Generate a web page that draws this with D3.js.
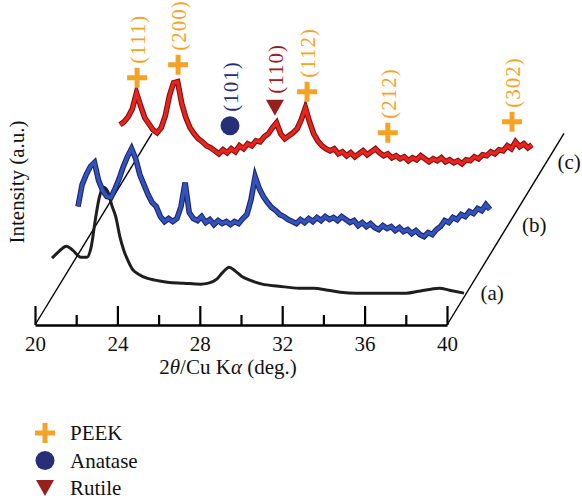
<!DOCTYPE html>
<html>
<head>
<meta charset="utf-8">
<script src="https://cdn.jsdelivr.net/npm/d3@7"></script>
<style>
  body { margin: 0; background: #fff; }
  svg text { font-family: "Liberation Serif", "DejaVu Serif", serif; }
</style>
</head>
<body>
<div id="chart"></div>
<script>
// 2theta grid for the noisy scans (step 0.2 deg)
var twoTheta = d3.range(0, 101).map(i => +(20 + i * 0.2).toFixed(1));

// (c) red scan
var scanC = [61, 64, 69, 77, 93, 80, 68, 62, 56, 53,
    58, 70, 90, 103, 104, 82, 68, 58, 52, 47,
    44, 40, 38, 35, 32, 36, 33, 37, 34, 40,
    37, 42, 40, 45, 44, 49, 52, 58, 63, 52,
    47, 50, 53, 57, 66, 78, 64, 52, 45, 40,
    37, 35, 37, 32, 34, 30, 33, 29, 32, 35,
    31, 34, 37, 33, 30, 32, 28, 30, 27, 29,
    25, 28, 26, 30, 27, 24, 27, 25, 28, 24,
    26, 23, 25, 22, 26, 25, 29, 27, 31, 30,
    34, 32, 36, 35, 40, 37, 44, 39, 42, 38, 41];

// (b) blue scan
var scanB = [48, 70, 80, 88, 92, 74, 64, 58, 57, 66,
    76, 88, 98, 106, 96, 80, 70, 60, 52, 48,
    38, 33, 36, 33, 36, 48, 72, 42, 36, 34,
    38, 32, 35, 30, 34, 31, 33, 30, 33, 31,
    36, 40, 55, 78, 66, 58, 52, 47, 44, 40,
    38, 35, 33, 31, 35, 32, 36, 33, 37, 34,
    38, 35, 37, 34, 38, 35, 32, 34, 29, 32,
    28, 31, 27, 25, 29, 26, 28, 24, 27, 23,
    25, 21, 24, 20, 18, 22, 20, 25, 28, 34,
    32, 37, 35, 40, 38, 43, 41, 46, 44, 50, 45];

// (a) black scan (smooth)
var thetaA = [20.0, 20.3, 20.7, 21.0, 21.4, 21.7, 21.9, 22.1, 22.3, 22.5,
    22.7, 22.9, 23.1, 23.3, 23.5, 23.7, 23.9, 24.2, 24.6, 25.0,
    25.6, 26.4, 27.2, 27.6, 28.0, 28.3, 28.6, 28.9, 29.2, 29.6,
    30.2, 31.0, 32.0, 32.7, 33.4, 34.0, 34.8, 35.6, 36.4, 37.2,
    37.8, 38.4, 38.8, 39.3, 40.0];
var scanA = [39, 45, 51, 47, 40, 40, 50, 77, 100, 110,
    106, 92, 80, 60, 46, 36, 28, 23, 19, 17,
    15, 14, 13, 14, 18, 25, 30, 26, 21, 17,
    13, 11, 9, 9, 7, 5, 4, 4, 4, 4,
    6, 8, 9, 7, 4];

var seriesLabels = ["(a)", "(b)", "(c)"];
var xTicks = [20, 24, 28, 32, 36, 40];
var xMinorTicks = [22, 26, 30, 34, 38];

// reflections marked on scan (c)
var peakNames = ["(111)", "(200)", "(101)", "(110)", "(112)", "(212)", "(302)"];
var peakTheta = [20.83, 22.82, 25.34, 27.52, 29.08, 33.0, 39.03];
var peakLevel = [108, 121, 60, 78, 94, 53, 64];
var peakPhase = ["PEEK", "PEEK", "Anatase", "Rutile", "PEEK", "PEEK", "PEEK"];

var phases = ["PEEK", "Anatase", "Rutile"];
var phaseColor = { PEEK: "#f5a327", Anatase: "#262f78", Rutile: "#97201f" };
var labelColor = { PEEK: "#f5a327", Anatase: "#262f78", Rutile: "#97201f" };

var width = 582, height = 500;
var baseY = 325;
var slope = 190 / 116;   // depth direction of the stacked scans
var depth = 117;
var fs = 21;

var svg = d3.select("#chart").append("svg")
    .attr("width", width)
    .attr("height", height);

var x = d3.scaleLinear().domain([20, 40]).range([35, 447]);
var y = d3.scaleLinear().domain([0, 120]).range([0, 120]);

// stacked series: shift along the depth line
var series = [
    { label: seriesLabels[0], dx: 17, pts: thetaA.map((t, i) => [t, scanA[i]]), color: "#1e1e1e", edge: "#1e1e1e", w: 3, labelRise: 32, lx: 14 },
    { label: seriesLabels[1], dx: 43, pts: twoTheta.map((t, i) => [t, scanB[i]]), color: "#3452bd", edge: "#1a276a", w: 3.4, labelRise: 100, lx: 14 },
    { label: seriesLabels[2], dx: 85, pts: twoTheta.map((t, i) => [t, scanC[i]]), color: "#ea241d", edge: "#7c1212", w: 3.4, labelRise: 163, lx: 11 }
];

function shiftY(dx) { return baseY - dx * slope; }

// depth lines
svg.append("line")
    .attr("x1", x(20)).attr("y1", baseY)
    .attr("x2", x(20) + depth).attr("y2", baseY - depth * slope)
    .attr("stroke", "#000").attr("stroke-width", 1.4);
svg.append("line")
    .attr("x1", x(40)).attr("y1", baseY)
    .attr("x2", x(40) + depth).attr("y2", baseY - depth * slope)
    .attr("stroke", "#000").attr("stroke-width", 1.4);

series.forEach(function (s, k) {
    var line = d3.line()
        .x(d => x(d[0]) + s.dx)
        .y(d => shiftY(s.dx) - y(d[1]))
        .curve(k == 0 ? d3.curveMonotoneX : d3.curveLinear);
    if (k > 0) {
        svg.append("path").datum(s.pts)
            .attr("d", line)
            .attr("fill", "none")
            .attr("stroke", s.edge)
            .attr("stroke-width", s.w + 2.2)
            .attr("stroke-linejoin", "miter");
    }
    svg.append("path").datum(s.pts)
        .attr("d", line)
        .attr("fill", "none")
        .attr("stroke", s.color)
        .attr("stroke-width", s.w)
        .attr("stroke-linejoin", "miter");

    // (a) (b) (c) next to the right depth line
    var ly = baseY - s.labelRise;
    svg.append("text")
        .attr("x", x(40) + s.labelRise / slope + s.lx)
        .attr("y", ly)
        .attr("dy", "0.35em")
        .attr("font-size", fs)
        .attr("fill", "#111")
        .text(s.label);
});

// x axis, ticks pointing up
var axisG = svg.append("g")
    .attr("transform", `translate(0, ${baseY})`)
    .call(d3.axisBottom(x).tickValues(xTicks).tickSize(-19).tickSizeOuter(0).tickPadding(11));
axisG.select(".domain").attr("stroke-width", 2.4);
axisG.selectAll(".tick line").attr("stroke-width", 2.2);
axisG.selectAll("text")
    .attr("font-family", "Liberation Serif, serif")
    .attr("font-size", fs)
    .attr("fill", "#111");

var minorG = svg.append("g")
    .attr("transform", `translate(0, ${baseY})`)
    .call(d3.axisBottom(x).tickValues(xMinorTicks).tickSize(-10).tickFormat(""));
minorG.select(".domain").remove();
minorG.selectAll(".tick line").attr("stroke-width", 2.2);

// axis titles
var xt = svg.append("text")
    .attr("x", 228).attr("y", 374)
    .attr("text-anchor", "middle")
    .attr("font-size", fs)
    .attr("fill", "#111");
xt.append("tspan").text("2");
xt.append("tspan").attr("font-style", "italic").text("θ");
xt.append("tspan").text("/Cu K");
xt.append("tspan").attr("font-style", "italic").text("α");
xt.append("tspan").text(" (deg.)");

svg.append("text")
    .attr("transform", "translate(24, 182) rotate(-90)")
    .attr("text-anchor", "middle")
    .attr("font-size", fs)
    .attr("fill", "#111")
    .text("Intensity (a.u.)");

// markers
function drawMarker(g, phase, cx, cy) {
    if (phase == "PEEK") {
        g.append("path")
            .attr("d", `M${cx - 10},${cy}H${cx + 10}M${cx},${cy - 10}V${cy + 10}`)
            .attr("stroke", phaseColor.PEEK)
            .attr("stroke-width", 5);
    } else if (phase == "Anatase") {
        g.append("circle")
            .attr("cx", cx).attr("cy", cy).attr("r", 9.5)
            .attr("fill", phaseColor.Anatase);
    } else {
        g.append("path")
            .attr("d", `M${cx - 9},${cy - 8}L${cx + 9},${cy - 8}L${cx},${cy + 8}Z`)
            .attr("fill", phaseColor.Rutile);
    }
}

var sc = series[2];
var marks = svg.append("g");
peakNames.forEach(function (name, i) {
    var cx = x(peakTheta[i]) + sc.dx;
    var cy = shiftY(sc.dx) - y(peakLevel[i]);
    drawMarker(marks, peakPhase[i], cx, cy);
    marks.append("text")
        .attr("transform", `translate(${cx + 1}, ${cy - 14}) rotate(-90)`)
        .attr("dy", "0.33em")
        .attr("font-size", fs)
        .attr("letter-spacing", 1)
        .attr("fill", labelColor[peakPhase[i]])
        .text(name);
});

// legend
var legend = svg.append("g");
phases.forEach(function (p, i) {
    var ly = 433 + i * 27.5;
    drawMarker(legend, p, 45, ly);
    legend.append("text")
        .attr("x", 70).attr("y", ly)
        .attr("dy", "0.35em")
        .attr("font-size", fs)
        .attr("fill", "#111")
        .text(p);
});
</script>
</body>
</html>
